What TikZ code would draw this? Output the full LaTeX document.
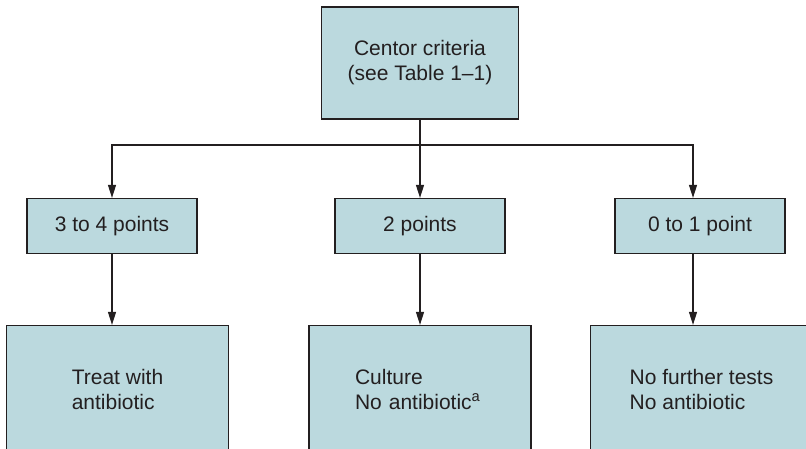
\documentclass[tikz,border=0pt]{standalone}
\usepackage{fontspec}
\setmainfont{Liberation Sans}
\usepackage{tikz}
\usetikzlibrary{arrows.meta}

\definecolor{boxblue}{RGB}{187,217,222}
\definecolor{inkgray}{RGB}{35,31,32}

\begin{document}
\begin{tikzpicture}[x=1pt, y=1pt, node distance=163pt, auto,
		color=inkgray, line width=1.2pt,
		>={Triangle[length=13pt,width=8pt]},
		box/.style={draw=inkgray, fill=boxblue, font=\fontsize{21}{25}\selectfont},
		topbox/.style={box, align=center, minimum width=197pt, minimum height=112pt},
		scorebox/.style={box, minimum width=170pt, minimum height=55pt},
		planbox/.style={box, align=left, minimum width=222pt, minimum height=127pt}]
		\useasboundingbox (0,0) rectangle (806,449);

		\node [topbox] (centor) at (420,386) {Centor criteria\\(see Table 1--1)};
		\coordinate [below of=centor, node distance=82pt] (bus);

		\node [scorebox, below of=centor, xshift=-308pt] (high) {3 to 4 points};
		\node [scorebox, below of=centor] (mid) {2 points};
		\node [scorebox, below of=centor, xshift=280pt] (low) {0 to 1 point};

		\node [planbox, below of=high, xshift=5.5pt] (treat) {Treat with\\antibiotic};
		\node [planbox, below of=mid, text width=130pt, inner xsep=46pt] (culture) {Culture\\No antibiotic\textsuperscript{a}};
		\node [planbox, below of=low, xshift=1.5pt] (none) {No further tests\\No antibiotic};

		\draw
		(centor) -- (bus);
		\draw[->]
		(bus) -| (high);
		\draw[->]
		(bus) -- (mid);
		\draw[->]
		(bus) -| ([xshift=-7pt]low.north);

		\draw[->]
		(high.south) -- (high.south |- treat.north);
		\draw[->]
		(mid) -- (culture);
		\draw[->]
		([xshift=-7pt]low.south) -- ([xshift=-7pt]low.south |- none.north);

		\end{tikzpicture}
\end{document}
